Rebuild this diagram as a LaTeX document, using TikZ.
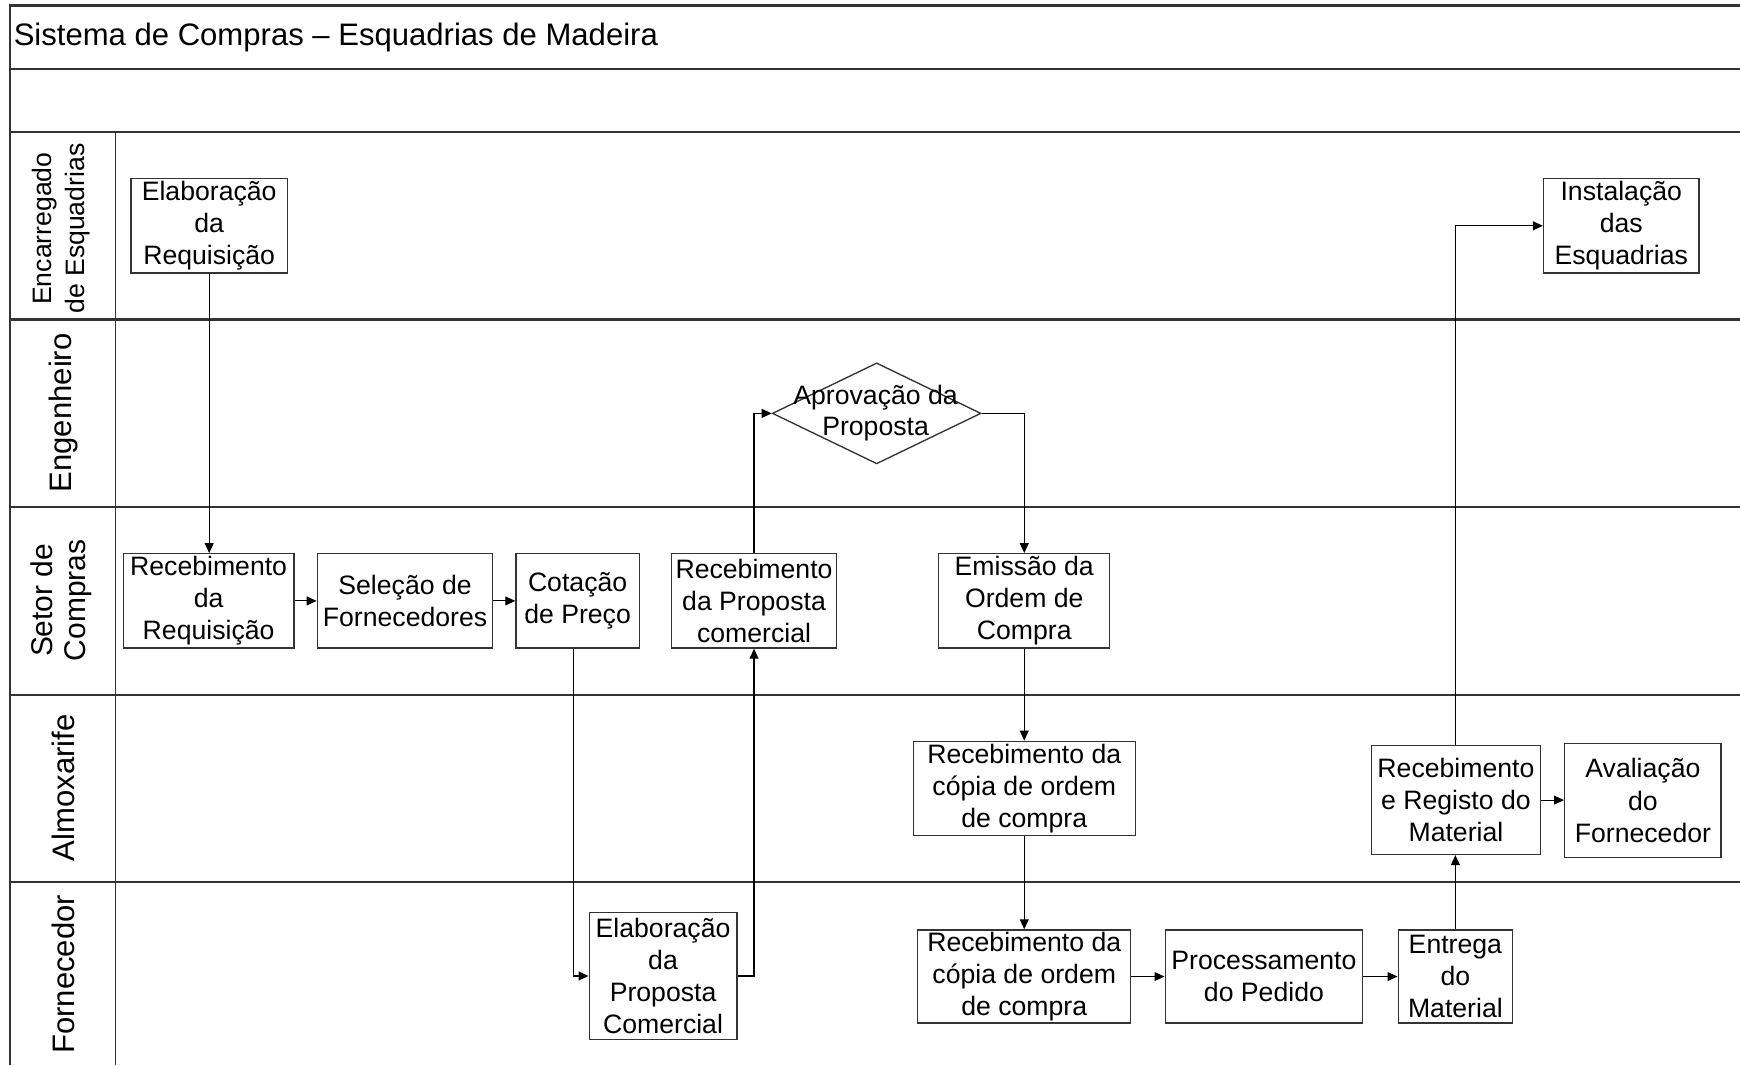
\documentclass[tikz,border=0pt]{standalone}
\usepackage{fontspec}
\setmainfont{Liberation Sans}
\usetikzlibrary{arrows.meta,shapes.geometric}
\begin{document}
\begin{tikzpicture}[x=0.5pt,y=-0.5pt,
  frame/.style={line width=1pt,draw=black!80},
  divider/.style={line width=0.7pt,draw=black!80},
  task/.style={draw=black!80,line width=0.6pt,rectangle,align=center,inner sep=0pt,
    font=\fontsize{12}{14.5}\selectfont,fill=white},
  lanelabel/.style={rotate=90,align=center,inner sep=0pt,font=\fontsize{14}{15}\selectfont},
  flow/.style={draw=black,line width=0.5pt,-{Triangle[length=4.5pt,width=4pt]}}]
\useasboundingbox[fill=white] (0,0) rectangle (1568,960);

% pool frame, header rows and lanes
\draw[frame] (1568,5) -- (9,5) -- (9,960);
\draw[frame] (9,62) -- (1568,62);
\draw[frame] (9,119) -- (1568,119);
\foreach \yy in {288,457,626,795}{\draw[frame] (9,\yy) -- (1568,\yy);}
\draw[divider] (104,119) -- (104,960);

\node[anchor=west,inner sep=0pt,font=\fontsize{14}{16}\selectfont] (title) at (12,34)
  {Sistema de Compras – Esquadrias de Madeira};

% lane names
\node[lanelabel,font=\fontsize{12}{14.5}\selectfont] (laneEnc) at (55,206) {Encarregado\\de Esquadrias};
\node[lanelabel] (laneEng) at (57,372) {Engenheiro};
\node[lanelabel,font=\fontsize{13.5}{15}\selectfont] (laneSet) at (55,541) {Setor de\\Compras};
\node[lanelabel] (laneAlm) at (57,710) {Almoxarife};
\node[lanelabel] (laneFor) at (57,878) {Fornecedor};

% activities
\node[task,minimum width=70.5pt,minimum height=42.5pt] (reqA) at (188.5,203.5) {Elaboração\\da\\Requisição};
\node[task,minimum width=70pt,minimum height=42.5pt] (inst) at (1461,203.5) {Instalação\\das\\Esquadrias};

\node[diamond,draw=black!80,line width=0.6pt,inner sep=0pt,minimum width=94pt,minimum height=45.5pt] (aprov) at (790,372.5) {};
\node[align=center,inner sep=0pt,font=\fontsize{12}{14}\selectfont] (aprovtxt) at (789,372) {Aprovação da\\Proposta};

\node[task,minimum width=77pt,minimum height=42.5pt] (reqB) at (188,541.5) {Recebimento\\da\\Requisição};
\node[task,minimum width=79pt,minimum height=42.5pt] (sel) at (365,541.5) {Seleção de\\Fornecedores};
\node[task,minimum width=55.5pt,minimum height=42.5pt] (cot) at (520.5,541.5) {Cotação\\de Preço};
\node[task,minimum width=74.5pt,minimum height=42.5pt] (recprop) at (679.5,541.5) {Recebimento\\da Proposta\\comercial};
\node[task,minimum width=77pt,minimum height=42.5pt] (emis) at (923,541.5) {Emissão da\\Ordem de\\Compra};

\node[task,minimum width=100pt,minimum height=42.5pt] (copA) at (923,710.5) {Recebimento da\\cópia de ordem\\de compra};
\node[task,minimum width=76pt,minimum height=49pt] (regist) at (1312,721) {Recebimento\\e Registo do\\Material};
\node[task,minimum width=70.5pt,minimum height=51.5pt] (aval) at (1480.5,721.5) {Avaliação\\do\\Fornecedor};

\node[task,minimum width=66.5pt,minimum height=57.5pt] (elabprop) at (597.5,879.5) {Elaboração\\da\\Proposta\\Comercial};
\node[task,minimum width=96pt,minimum height=42pt] (copB) at (923,880) {Recebimento da\\cópia de ordem\\de compra};
\node[task,minimum width=89pt,minimum height=42pt] (proc) at (1139,880) {Processamento\\do Pedido};
\node[task,minimum width=51.5pt,minimum height=42pt] (entr) at (1311.5,880) {Entrega\\do\\Material};

% flow
\draw[flow] (reqA.south) -- (reqA.south |- reqB.north);
\draw[flow] (reqB) -- (sel);
\draw[flow] (sel) -- (cot);
\draw[flow] ([xshift=-1.75pt]cot.south) |- (elabprop.west);
\draw[flow] (elabprop.east) -| (recprop.south);
\draw[flow] (recprop.north) |- (aprov.west);
\draw[flow] (aprov.east) -| (emis.north);
\draw[flow] (emis) -- (copA);
\draw[flow] (copA) -- (copB);
\draw[flow] (copB) -- (proc);
\draw[flow] (proc) -- (entr);
\draw[flow] (entr.north) -- (entr.north |- regist.south);
\draw[flow] (regist.north) |- (inst.west);
\draw[flow] (regist.east) -- (regist.east -| aval.west);
\end{tikzpicture}
\end{document}
